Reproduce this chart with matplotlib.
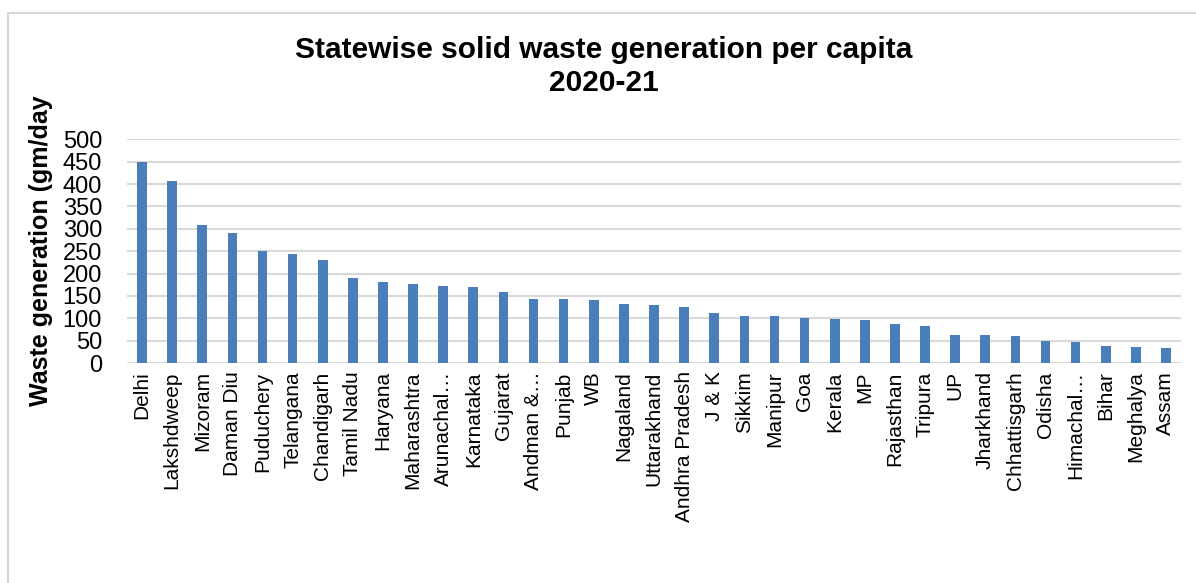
import matplotlib.pyplot as plt
from matplotlib.lines import Line2D

states = ["Delhi", "Lakshdweep", "Mizoram", "Daman Diu", "Puduchery", "Telangana",
          "Chandigarh", "Tamil Nadu", "Haryana", "Maharashtra", "Arunachal…",
          "Karnataka", "Gujarat", "Andman &…", "Punjab", "WB", "Nagaland",
          "Uttarakhand", "Andhra Pradesh", "J & K", "Sikkim", "Manipur", "Goa",
          "Kerala", "MP", "Rajasthan", "Tripura", "UP", "Jharkhand",
          "Chhattisgarh", "Odisha", "Himachal…", "Bihar", "Meghalya", "Assam"]
waste = [449, 407, 309, 290, 250, 243, 231, 189, 181, 177, 171,
         170, 158, 144, 143, 140, 132, 129, 125, 112, 106, 104, 100,
         98, 97, 88, 83, 62, 62, 60, 49, 47, 39, 36, 34]
yticks = list(range(0, 501, 50))

plt.rcParams["font.family"] = ["Liberation Sans", "DejaVu Sans"]

fig = plt.figure(figsize=(11.96, 5.83), dpi=100)
ax = fig.add_axes([127 / 1196, 1 - 363 / 583, (1181 - 127) / 1196, (363 - 139.3) / 583])

x = range(len(states))
ax.bar(x, waste, width=0.32, color="#4A7EBB", zorder=3)

ax.set_xlim(-0.5, len(states) - 0.5)
ax.set_ylim(0, 500)
ax.set_yticks(yticks)
ax.set_xticks(list(x))
ax.set_xticklabels(states, rotation=90, fontsize=15, va="top", ha="center")
ax.tick_params(axis="y", labelsize=17, length=0, pad=18)
ax.tick_params(axis="x", length=0, pad=6)
ax.grid(axis="y", color="#d9d9d9", linewidth=1.5, zorder=0)
for s in ax.spines.values():
    s.set_visible(False)

ax.set_ylabel("Waste generation (gm/day", fontsize=18, fontweight="bold", labelpad=7)

fig.text(0.505, 0.914, "Statewise solid waste generation per capita", ha="center",
         va="center", fontsize=21.5, fontweight="bold")
fig.text(0.505, 0.858, "2020-21", ha="center", va="center", fontsize=21.5, fontweight="bold")

# light frame around the chart
fig.add_artist(Line2D([8 / 1196, 8 / 1196], [0, 1 - 13 / 583], transform=fig.transFigure,
                      color="#d0d0d0", linewidth=1.2))
fig.add_artist(Line2D([8 / 1196, 1], [1 - 13 / 583, 1 - 13 / 583], transform=fig.transFigure,
                      color="#d0d0d0", linewidth=1.2))

fig.savefig("out.png", dpi=100)
